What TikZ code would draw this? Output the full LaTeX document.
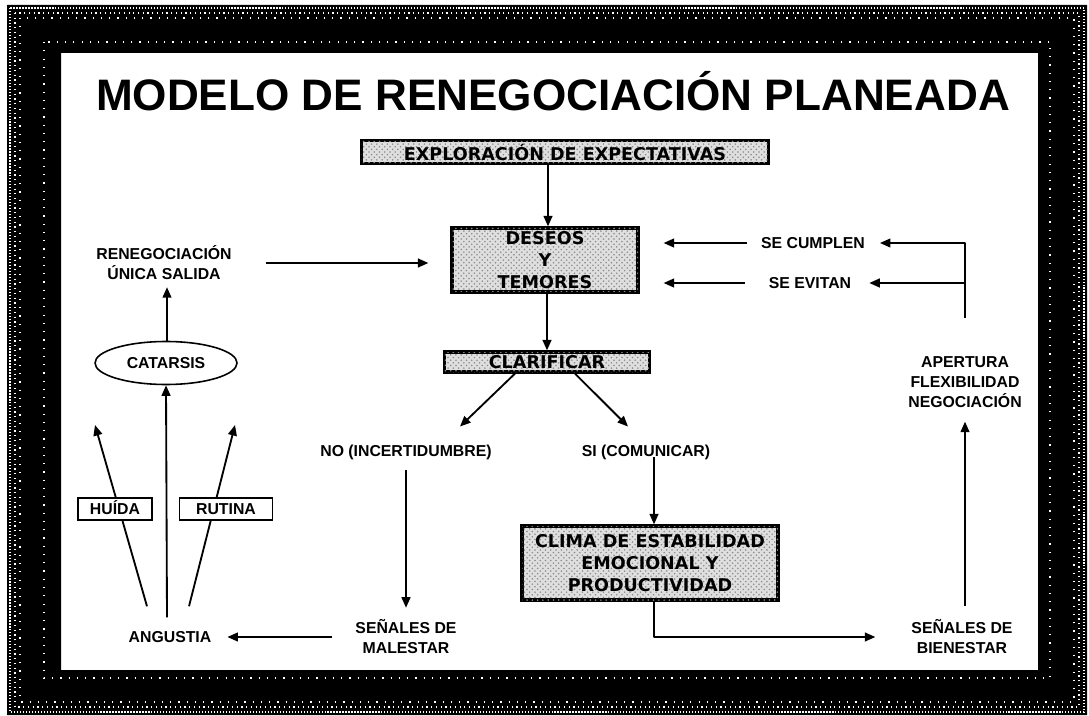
\documentclass[tikz,border=0pt]{standalone}
\usepackage{fontspec}
\setmainfont{Liberation Sans}
\newfontfamily\boxfont{DejaVu Sans}
\usetikzlibrary{arrows.meta,shapes.geometric,patterns,positioning}

\tikzstyle{conn}=[black, line width=1.05pt, line join=round, -{Triangle[length=6pt,width=5pt]}]
\tikzstyle{link}=[black, line width=1.05pt, line join=round]

\begin{document}
\begin{tikzpicture}[
	x=0.02cm, y=-0.02cm,
	lbl/.style={font=\fontsize{9}{11.4}\selectfont\bfseries, align=center, inner sep=1pt},
	shadebox/.style={draw, line width=1.8pt, fill=gray!25,
		postaction={pattern=crosshatch dots, pattern color=gray!90},
		font=\boxfont\fontsize{10}{12.3}\selectfont\bfseries, align=center, inner sep=1pt},
	smallbox/.style={draw, line width=0.9pt, fill=white, text height=7pt, text depth=1pt,
		font=\fontsize{9}{11}\selectfont\bfseries, inner sep=1pt}
	]
	
	\def\u{0.02cm} % one pixel of the reference
	
	\useasboundingbox (0,0) rectangle (1089,716);
	
	% Frame round the sheet
	\fill[black, even odd rule] (7,5) rectangle (1087,715) (61,53) rectangle (1038,670);
	\foreach \d/\s in {3/densely dotted, 8/dotted, 13/loosely dotted, 37/loosely dotted} {
		\draw[white, line width=0.7pt, \s] (7+\d,5+\d) rectangle (1087-\d,715-\d);
	}
	
	% Title
	\node[font=\fontsize{25.1}{28}\selectfont\bfseries] (title) at (553,91) {MODELO DE RENEGOCIACIÓN PLANEADA};
	
	% Central column
	\node[shadebox, minimum width={407*\u}, minimum height={23*\u}] (explo) at (565,152) {EXPLORACIÓN DE EXPECTATIVAS};
	\node[shadebox, minimum width={186*\u}, minimum height={64*\u}] (deseos) at (545,260) {DESEOS\\Y\\TEMORES};
	\node[shadebox, minimum width={205*\u}, minimum height={20*\u}] (clar) at (547,362) {CLARIFICAR};
	\node[lbl] (no) at (406,452) {NO (INCERTIDUMBRE)};
	\node[lbl] (si) at (646,452) {SI (COMUNICAR)};
	\node[shadebox, minimum width={256*\u}, minimum height={74*\u}] (clima) at (650,563) {CLIMA DE ESTABILIDAD\\EMOCIONAL Y\\PRODUCTIVIDAD};
	\node[lbl] (malestar) at (406,637) {SEÑALES DE\\MALESTAR};
	\node[lbl] (bienestar) at (962,637) {SEÑALES DE\\BIENESTAR};
	
	% Left side
	\node[lbl] (angustia) at (170,637) {ANGUSTIA};
	\node[draw, ellipse, line width=0.9pt, minimum width={142*\u}, minimum height={43*\u}, font=\fontsize{9}{11}\selectfont\bfseries, inner sep=0pt] (catarsis) at (166,363) {CATARSIS};
	\node[lbl] (reneg) at (164,263) {RENEGOCIACIÓN\\ÚNICA SALIDA};
	\coordinate (huidatip) at (95,425);
	\coordinate (rutinatip) at (235,425);
	
	% Right side
	\node[lbl] (cumplen) at (813,243) {SE CUMPLEN};
	\node[lbl] (evitan) at (810,283) {SE EVITAN};
	\node[lbl] (apertura) at (965,382) {APERTURA\\FLEXIBILIDAD\\NEGOCIACIÓN};
	\coordinate (brk) at (965,318);
	
	% Connectors of the central column
	\draw[conn] (deseos.north |- explo.south) ++(3*\u,0) -- ([xshift=3*\u]deseos.north);
	\draw[conn] ([xshift=2*\u]deseos.south) -- ([xshift=0*\u]clar.north);
	\draw[conn] ([xshift=-32*\u]clar.south) -- ([xshift=54*\u,yshift=16*\u]no.north);
	\draw[conn] ([xshift=28*\u]clar.south) -- ([xshift=-18*\u,yshift=16*\u]si.north);
	\draw[conn, shorten <=9*\u, shorten >=10*\u] (no.south) -- (malestar.north);
	\draw[conn] ([xshift=8*\u,yshift=4*\u]si.south) -- ([xshift=4*\u]clima.north);
	\draw[conn, shorten >=34*\u] ([xshift=4*\u]clima.south) |- (bienestar.west);
	\draw[conn, shorten <=21*\u, shorten >=14*\u] (malestar.west) -- (angustia.east);
	
	% Left side connectors
	\draw[conn] ([xshift=-23*\u,yshift=23*\u]angustia.north) -- (huidatip);
	\draw[conn] ([xshift=19*\u,yshift=23*\u]angustia.north) -- (rutinatip);
	\draw[conn] ([xshift=-3*\u,yshift=12*\u]angustia.north) -- (catarsis.south);
	\node[smallbox, minimum width={74*\u}, minimum height={22*\u}] (huida) at (115,509) {HUÍDA};
	\node[smallbox, minimum width={93*\u}, minimum height={22*\u}] (rutina) at (226,509) {RUTINA};
	\draw[conn, shorten >=5*\u] ([xshift=1*\u]catarsis.north) -- ([xshift=3*\u]reneg.south);
	\draw[conn, shorten <=32*\u, shorten >=22*\u] (reneg.east) -- (reneg.east -| deseos.west);
	
	% Right side connectors
	\draw[conn, shorten <=12*\u, shorten >=24*\u] (cumplen.west) -- (cumplen.west -| deseos.east);
	\draw[conn, shorten <=22*\u, shorten >=24*\u] (evitan.west) -- (evitan.west -| deseos.east);
	\draw[conn, shorten >=13*\u] (brk) |- (cumplen.east);
	\draw[conn, shorten >=16*\u] (brk |- evitan.east) -- (evitan.east);
	\draw[conn, shorten <=12*\u, shorten >=12*\u] (bienestar.north -| apertura.south) -- (apertura.south);
	
\end{tikzpicture}
\end{document}
